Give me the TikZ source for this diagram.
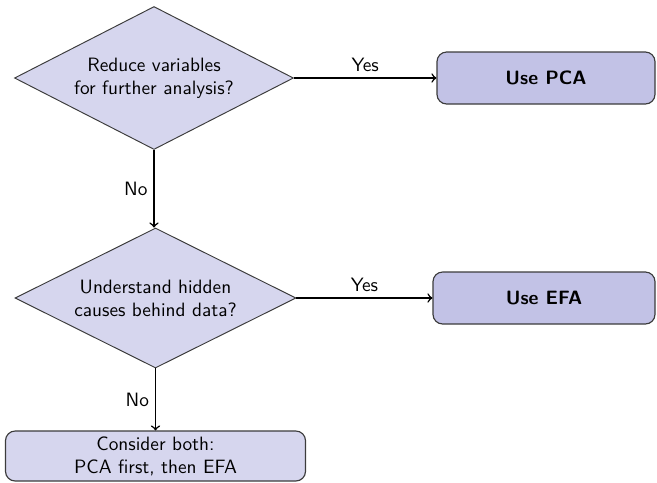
\documentclass[tikz,border=0pt]{standalone}
\usetikzlibrary{shapes.geometric}
\definecolor{dfill}{RGB}{214,214,238}
\definecolor{bfill}{RGB}{194,194,230}
\definecolor{edgec}{RGB}{60,60,60}
\begin{document}
\begin{tikzpicture}[x=0.518pt,y=-0.518pt,
  font=\sffamily,
  decision/.style={diamond,draw=edgec,line width=0.5pt,fill=dfill,align=center,inner sep=0pt},
  outbox/.style={rectangle,rounded corners=5pt,draw=edgec,line width=0.6pt,fill=bfill,font=\sffamily\bfseries,inner sep=0pt},
  endbox/.style={rectangle,rounded corners=5pt,draw=edgec,line width=0.6pt,fill=dfill,align=center,inner sep=0pt},
  conn/.style={->,line width=0.8pt,black},
  lbl/.style={font=\sffamily,inner sep=3pt}]
\useasboundingbox (0,0) rectangle (657,482);
\node[decision,aspect=1.944,minimum width={279*0.518pt},minimum height={143*0.518pt}] (d1) at (154,78) {Reduce variables\\for further analysis?};
\node[decision,aspect=2.007,minimum width={281*0.518pt},minimum height={140*0.518pt}] (d2) at (155.5,298) {Understand hidden\\causes behind data?};
\node[outbox,minimum width={218*0.518pt},minimum height={52*0.518pt}] (pca) at (546,78) {Use PCA};
\node[outbox,minimum width={222*0.518pt},minimum height={52*0.518pt}] (efa) at (544,298) {Use EFA};
\node[endbox,minimum width={300*0.518pt},minimum height={50*0.518pt}] (both) at (155.5,456) {Consider both:\\PCA first, then EFA};
\draw[conn] (d1.east) -- node[lbl,above] {Yes} (pca.west);
\draw[conn] (d2.east) -- node[lbl,above] {Yes} (efa.west);
\draw[conn] (d1.south) -- node[lbl,left] {No} (d1.south |- d2.north);
\draw[conn] (d2.south) -- node[lbl,left] {No} (both.north);
\end{tikzpicture}
\end{document}
